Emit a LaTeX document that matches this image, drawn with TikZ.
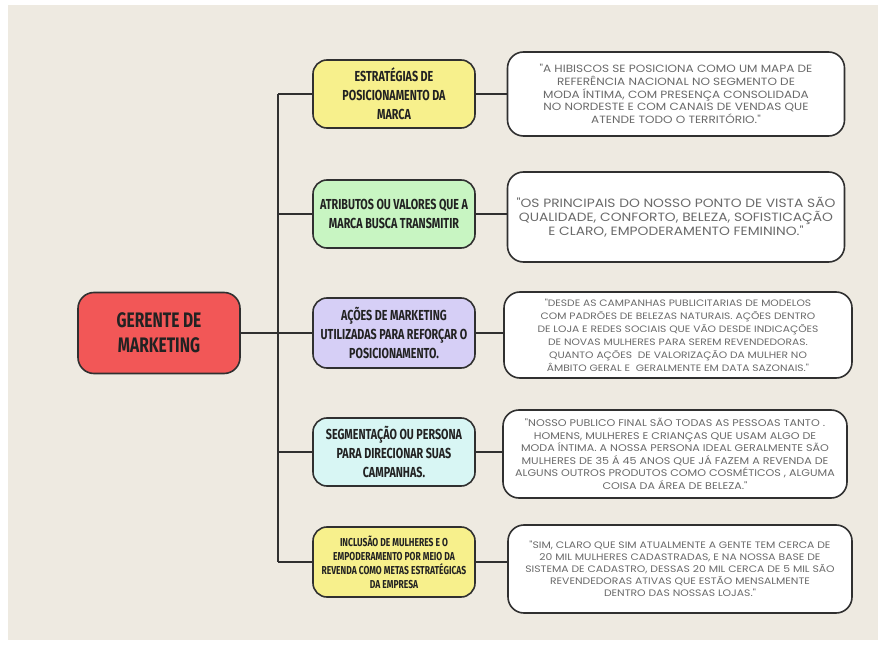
\documentclass[tikz,border=0pt]{standalone}
\usepackage{fontspec}
\setmainfont{Fira Sans}
\newfontfamily\hand{Fira Sans}[FakeStretch=0.74]
\newfontfamily\quotef{Poppins}[FakeStretch=1.15]
\definecolor{bgbeige}{HTML}{EEEAE1}
\definecolor{edge}{HTML}{303030}
\definecolor{txtdark}{HTML}{222222}
\definecolor{quotegray}{HTML}{6A6A6A}
\definecolor{redbox}{HTML}{F25757}
\definecolor{yellowbox}{HTML}{F7F08C}
\definecolor{greenbox}{HTML}{C8F5C2}
\definecolor{purplebox}{HTML}{D6CFF6}
\definecolor{cyanbox}{HTML}{D8F6F4}
\begin{document}
\begin{tikzpicture}[x=1pt,y=-1pt,
  cat/.style={draw=edge, line width=1.6pt, rounded corners=14pt, minimum width=162pt,
    minimum height=68pt, align=center, text=txtdark, inner sep=2pt,
    font=\hand\bfseries\fontsize{14.5}{19}\selectfont},
  quote/.style={draw=edge, line width=1.6pt, rounded corners=16pt, fill=white,
    align=center, text=quotegray, inner sep=0pt},
  link/.style={draw=edge, line width=1.5pt}]
\useasboundingbox (0,0) rectangle (878,660);
\fill[white] (0,0) rectangle (878,660);
\fill[bgbeige] (8,5) rectangle (878,640);

\coordinate (tx) at (278,0);

\node[draw=edge, line width=1.6pt, rounded corners=16pt, fill=redbox, minimum width=162pt,
  minimum height=81pt, align=center, text=txtdark,
  font=\hand\bfseries\fontsize{21}{25}\selectfont] (g) at (159,333) {GERENTE DE\\MARKETING};

\node[cat, fill=yellowbox] (c1) at (394,94) {ESTRATÉGIAS DE\\POSICIONAMENTO DA\\MARCA};
\node[cat, fill=greenbox] (c2) at (394,214) {ATRIBUTOS OU VALORES QUE A\\MARCA BUSCA TRANSMITIR};
\node[cat, fill=purplebox, minimum height=70pt] (c3) at (394,333) {AÇÕES DE MARKETING\\UTILIZADAS PARA REFORÇAR O\\POSICIONAMENTO.};
\node[cat, fill=cyanbox] (c4) at (394,452) {SEGMENTAÇÃO OU PERSONA\\PARA DIRECIONAR SUAS\\CAMPANHAS.};
\node[cat, fill=yellowbox, minimum height=70pt, font=\hand\bfseries\fontsize{11.5}{14}\selectfont] (c5) at (394,562) {INCLUSÃO DE MULHERES E O\\EMPODERAMENTO POR MEIO DA\\REVENDA COMO METAS ESTRATÉGICAS\\DA EMPRESA};

\node[quote, minimum width=337pt, minimum height=84pt, font=\quotef\fontsize{10.5}{12.8}\selectfont] (r1) at (676,94)
 {"A HIBISCOS SE POSICIONA COMO UM MAPA DE\\REFERÊNCIA NACIONAL NO SEGMENTO DE\\MODA ÍNTIMA, COM PRESENÇA CONSOLIDADA\\NO NORDESTE E COM CANAIS DE VENDAS QUE\\ATENDE TODO O TERRITÓRIO."};
\node[quote, minimum width=337pt, minimum height=90pt, font=\quotef\fontsize{12}{14}\selectfont] (r2) at (676,217)
 {"OS PRINCIPAIS DO NOSSO PONTO DE VISTA SÃO\\QUALIDADE, CONFORTO, BELEZA, SOFISTICAÇÃO\\E CLARO, EMPODERAMENTO FEMININO."};
\node[quote, minimum width=348pt, minimum height=86pt, font=\quotef\fontsize{9.3}{13}\selectfont] (r3) at (678,335)
 {"DESDE AS CAMPANHAS PUBLICITARIAS DE MODELOS\\COM PADRÕES DE BELEZAS NATURAIS. AÇÕES DENTRO\\DE LOJA E REDES SOCIAIS QUE VÃO DESDE INDICAÇÕES\\DE NOVAS MULHERES PARA SEREM REVENDEDORAS.\\QUANTO AÇÕES\ \ DE VALORIZAÇÃO DA MULHER NO\\ÂMBITO GERAL E\ \ GERALMENTE EM DATA SAZONAIS."};
\node[quote, minimum width=344pt, minimum height=88pt, font=\quotef\fontsize{9.7}{12.5}\selectfont] (r4) at (675,454)
 {"NOSSO PUBLICO FINAL SÃO TODAS AS PESSOAS TANTO .\\HOMENS, MULHERES E CRIANÇAS QUE USAM ALGO DE\\MODA ÍNTIMA. A NOSSA PERSONA IDEAL GERALMENTE SÃO\\MULHERES DE 35 Á 45 ANOS QUE JÁ FAZEM A REVENDA DE\\ALGUNS OUTROS PRODUTOS COMO COSMÉTICOS , ALGUMA\\COISA DA ÁREA DE BELEZA."};
\node[quote, minimum width=344pt, minimum height=88pt, font=\quotef\fontsize{9.4}{12}\selectfont] (r5) at (680,569)
 {"SIM, CLARO QUE SIM ATUALMENTE A GENTE TEM CERCA DE\\20 MIL MULHERES CADASTRADAS, E NA NOSSA BASE DE\\SISTEMA DE CADASTRO, DESSAS 20 MIL CERCA DE 5 MIL SÃO\\REVENDEDORAS ATIVAS QUE ESTÃO MENSALMENTE\\DENTRO DAS NOSSAS LOJAS."};

% trunk and branches
\draw[link] (c1.west -| tx) -- (c5.west -| tx);
\draw[link] (g.east) -- (g.east -| tx);
\foreach \i in {1,...,5} {
  \draw[link] (c\i.west -| tx) -- (c\i.west);
  \draw[link] (c\i.east) -- (c\i.east -| r\i.west);
}
\end{tikzpicture}
\end{document}
